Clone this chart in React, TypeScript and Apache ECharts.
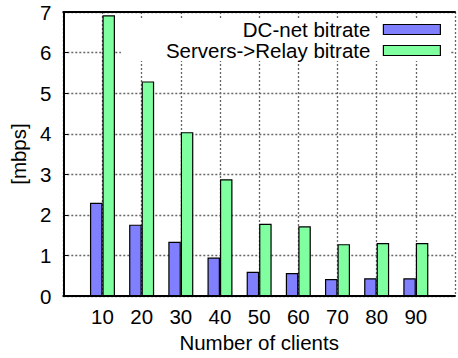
import React, { useEffect, useRef } from "react";
import * as echarts from "echarts";

const clients = [10, 20, 30, 40, 50, 60, 70, 80, 90];
const dcNet = [2.3, 1.76, 1.34, 0.95, 0.6, 0.57, 0.42, 0.44, 0.44];
const relay = [6.92, 5.29, 4.04, 2.88, 1.78, 1.72, 1.28, 1.31, 1.31];
const seriesNames = ["DC-net bitrate", "Servers->Relay bitrate"];
const xTitle = "Number of clients";
const yTitle = "[mbps]";

const FONT = "'Liberation Sans', Arial, Helvetica, sans-serif";
const FS = 20.5;

export default function App() {
  const ref = useRef<HTMLDivElement>(null);
  useEffect(() => {
    if (!ref.current) return;
    const chart = echarts.init(ref.current, null, { renderer: "svg" });
    const gridStyle = { color: "#666", type: [2, 2], width: 1.3 };
    chart.setOption({
      animation: false,
      textStyle: { fontFamily: FONT, color: "#000" },
      grid: { left: 60, top: 12, right: -7, bottom: 54, containLabel: false },
      legend: {
        orient: "vertical",
        right: 7,
        top: 18,
        align: "right",
        icon: "rect",
        itemWidth: 57,
        itemHeight: 10,
        itemGap: 0,
        padding: [1, 10, 0, 45],
        backgroundColor: "#fff",
        z: 5,
        data: seriesNames,
        itemStyle: { borderColor: "#000", borderWidth: 1.2 },
        textStyle: { fontFamily: FONT, fontSize: FS, color: "#000", lineHeight: 20, padding: [0, 8, 0, 0] },
      },
      xAxis: [
        {
          type: "value",
          min: 0,
          max: 100,
          interval: 10,
          name: xTitle,
          nameLocation: "middle",
          nameGap: 30,
          nameTextStyle: { fontFamily: FONT, fontSize: FS, color: "#000" },
          axisLine: { show: true, lineStyle: { color: "#000", width: 2 } },
          axisTick: { show: false },
          axisLabel: {
            fontFamily: FONT,
            fontSize: FS,
            color: "#000",
            margin: 10,
            formatter: (v: number) => (clients.indexOf(v) >= 0 ? String(v) : ""),
          },
          splitLine: { show: true, lineStyle: { ...gridStyle } },
        },
        {
          type: "value",
          position: "top",
          min: 0,
          max: 100,
          interval: 10,
          axisLine: { show: true, onZero: false, lineStyle: { color: "#000", width: 2 } },
          axisTick: { show: false },
          axisLabel: { show: false },
          splitLine: { show: false },
        },
      ],
      yAxis: {
        type: "value",
        min: 0,
        max: 7,
        interval: 1,
        name: yTitle,
        nameLocation: "middle",
        nameGap: 24,
        nameTextStyle: { fontFamily: FONT, fontSize: FS, color: "#000" },
        axisLine: { show: true, lineStyle: { color: "#000", width: 2 } },
        axisTick: { show: true, inside: true, length: 5, lineStyle: { color: "#000", width: 1 } },
        axisLabel: { fontFamily: FONT, fontSize: FS, color: "#000", margin: 12 },
        splitLine: { show: true, lineStyle: { ...gridStyle } },
      },
      series: [
        {
          name: seriesNames[0],
          type: "bar",
          barWidth: 12.5,
          barGap: "0%",
          data: clients.map((c, i) => [c, dcNet[i]]),
          itemStyle: { color: "#8080ff", borderColor: "#000", borderWidth: 1.2 },
        },
        {
          name: seriesNames[1],
          type: "bar",
          barWidth: 12.5,
          barGap: "0%",
          data: clients.map((c, i) => [c, relay[i]]),
          itemStyle: { color: "#80ffa0", borderColor: "#000", borderWidth: 1.2 },
        },
      ],
    });
    return () => chart.dispose();
  }, []);
  return (
    <div
      ref={ref}
      style={{ position: "fixed", left: 0, top: 0, width: 458, height: 358, background: "#fff" }}
    />
  );
}
